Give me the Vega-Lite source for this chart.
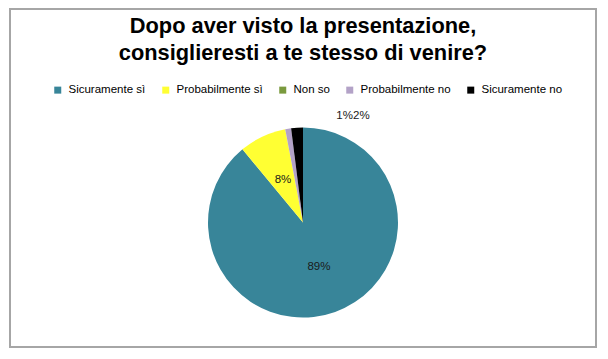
{
  "$schema": "https://vega.github.io/schema/vega-lite/v6.json",
  "autosize": "none",
  "width": 586,
  "height": 338,
  "padding": {"left": 10, "top": 9, "right": 12, "bottom": 12},
  "background": "white",
  "config": {
    "view": {"stroke": null},
    "font": "Liberation Sans"
  },
  "title": {
    "text": ["Dopo aver visto la presentazione,", "consiglieresti a te stesso di venire?"],
    "font": "Liberation Sans",
    "fontSize": 21.8,
    "fontWeight": "bold",
    "color": "#000000",
    "lineHeight": 27,
    "anchor": "middle",
    "frame": "group",
    "orient": "top",
    "offset": -57
  },
  "data": {
    "values": [
      {"risposta": "Sicuramente sì", "valore": 0.89, "ord": 1},
      {"risposta": "Probabilmente sì", "valore": 0.08, "ord": 2},
      {"risposta": "Non so", "valore": 0, "ord": 3},
      {"risposta": "Probabilmente no", "valore": 0.01, "ord": 4},
      {"risposta": "Sicuramente no", "valore": 0.02, "ord": 5}
    ]
  },
  "encoding": {
    "theta": {"field": "valore", "type": "quantitative", "stack": true},
    "order": {"field": "ord", "type": "quantitative"}
  },
  "layer": [
    {
      "data": {"values": [{}]},
      "mark": {"type": "rect", "fill": null, "stroke": "#A6A6A6", "strokeWidth": 2},
      "encoding": {"theta": null, "order": null}
    },
    {
      "mark": {"type": "arc", "outerRadius": 95, "yOffset": 44.5},
      "encoding": {
        "color": {
          "field": "risposta",
          "type": "nominal",
          "scale": {
            "domain": ["Sicuramente sì", "Probabilmente sì", "Non so", "Probabilmente no", "Sicuramente no"],
            "range": ["#388599", "#FFFF33", "#7A9A3E", "#B3A2C7", "#000000"]
          },
          "legend": {
            "title": null,
            "orient": "none",
            "direction": "horizontal",
            "legendX": 42,
            "legendY": 75,
            "symbolType": "square",
            "symbolSize": 49,
            "symbolStrokeWidth": 0,
            "labelFont": "Liberation Sans",
            "labelFontSize": 11.5,
            "labelColor": "#000000",
            "labelOffset": 5,
            "columnPadding": 14,
            "padding": 0
          }
        }
      }
    },
    {
      "mark": {"type": "text", "radius": 47, "yOffset": 44.5, "fontSize": 11.5, "font": "Liberation Sans", "color": "#1a1a1a"},
      "encoding": {
        "text": {
          "condition": {"test": "datum.valore >= 0.05", "field": "valore", "type": "quantitative", "format": ".0%"},
          "value": ""
        }
      }
    },
    {
      "mark": {"type": "text", "radius": 105, "yOffset": 44.5, "dx": 58, "dy": -3, "fontSize": 11.5, "font": "Liberation Sans", "color": "#1a1a1a"},
      "encoding": {
        "text": {
          "condition": {"test": "datum.risposta == 'Probabilmente no'", "field": "valore", "type": "quantitative", "format": ".0%"},
          "value": ""
        }
      }
    },
    {
      "mark": {"type": "text", "radius": 105, "yOffset": 44.5, "dx": 65, "dy": -2, "fontSize": 11.5, "font": "Liberation Sans", "color": "#1a1a1a"},
      "encoding": {
        "text": {
          "condition": {"test": "datum.risposta == 'Sicuramente no'", "field": "valore", "type": "quantitative", "format": ".0%"},
          "value": ""
        }
      }
    }
  ]
}
